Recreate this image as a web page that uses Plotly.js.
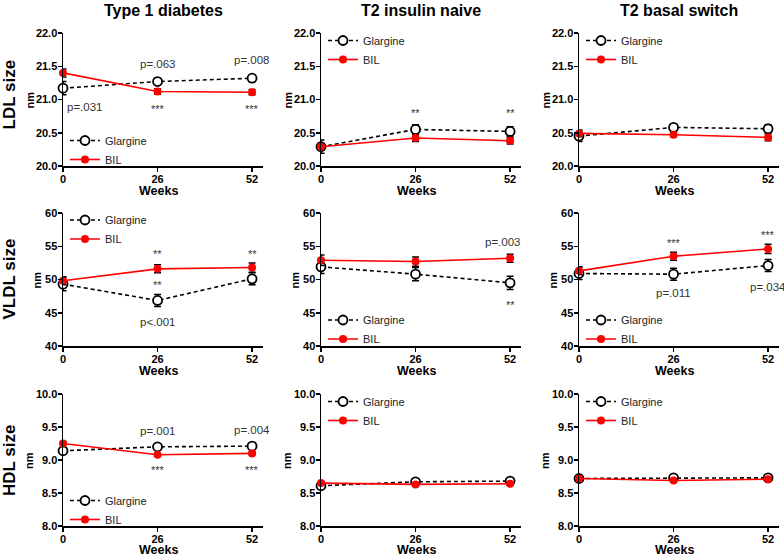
<!DOCTYPE html>
<html>
<head>
<meta charset="utf-8">
<script src="https://cdn.plot.ly/plotly-3.0.1.min.js"></script>
<style>html,body{margin:0;padding:0;background:#fff;}#chart{width:784px;height:559px;}</style>
</head>
<body>
<div id="chart"></div>
<script>
// ---------- data ----------
const weeks = [0, 26, 52];
const seriesNames = ['Glargine', 'BIL'];
const columnTitles = ['Type 1 diabetes', 'T2 insulin naive', 'T2 basal switch'];
const rowTitles = ['LDL size', 'VLDL size', 'HDL size'];
const xAxisTitle = 'Weeks';
const yAxisTitle = 'nm';
const xTickVals = [0, 26, 52];
const yTickVals = [[20.0, 20.5, 21.0, 21.5, 22.0], [40, 45, 50, 55, 60], [8.0, 8.5, 9.0, 9.5, 10.0]];

// LDL
const ldlT1Glar = [21.17, 21.27, 21.32];     const ldlT1GlarErr = [0.10, 0.05, 0.05];
const ldlT1Bil = [21.40, 21.12, 21.11];      const ldlT1BilErr = [0.06, 0.04, 0.04];
const ldlNaiveGlar = [20.29, 20.55, 20.52];  const ldlNaiveGlarErr = [0.10, 0.07, 0.07];
const ldlNaiveBil = [20.29, 20.42, 20.38];   const ldlNaiveBilErr = [0.05, 0.05, 0.05];
const ldlSwitchGlar = [20.45, 20.58, 20.56]; const ldlSwitchGlarErr = [0.08, 0.05, 0.06];
const ldlSwitchBil = [20.49, 20.47, 20.43];  const ldlSwitchBilErr = [0.05, 0.03, 0.05];
// VLDL
const vldlT1Glar = [49.3, 46.85, 50.1];      const vldlT1GlarErr = [1.0, 0.9, 0.9];
const vldlT1Bil = [49.8, 51.6, 51.8];        const vldlT1BilErr = [0.6, 0.6, 0.7];
const vldlNaiveGlar = [51.9, 50.8, 49.5];    const vldlNaiveGlarErr = [1.0, 1.0, 1.0];
const vldlNaiveBil = [52.9, 52.7, 53.2];     const vldlNaiveBilErr = [0.8, 0.7, 0.6];
const vldlSwitchGlar = [50.9, 50.8, 52.1];   const vldlSwitchGlarErr = [0.9, 0.9, 0.9];
const vldlSwitchBil = [51.3, 53.5, 54.6];    const vldlSwitchBilErr = [0.6, 0.6, 0.7];
// HDL
const hdlT1Glar = [9.14, 9.20, 9.21];        const hdlT1GlarErr = [0.04, 0.02, 0.02];
const hdlT1Bil = [9.25, 9.08, 9.10];         const hdlT1BilErr = [0.03, 0.02, 0.02];
const hdlNaiveGlar = [8.61, 8.67, 8.68];     const hdlNaiveGlarErr = [0.03, 0.02, 0.02];
const hdlNaiveBil = [8.65, 8.63, 8.64];      const hdlNaiveBilErr = [0.02, 0.02, 0.02];
const hdlSwitchGlar = [8.72, 8.73, 8.73];    const hdlSwitchGlarErr = [0.02, 0.02, 0.02];
const hdlSwitchBil = [8.72, 8.69, 8.71];     const hdlSwitchBilErr = [0.02, 0.02, 0.02];

// significance labels: [panel, week, value, text]
const sigLabels = [
  [0, 6, 20.88, 'p=.031'], [0, 26, 21.53, 'p=.063'], [0, 52, 21.59, 'p=.008'],
  [0, 26, 20.85, '***'], [0, 52, 20.85, '***'],
  [1, 26, 20.79, '**'], [1, 52, 20.79, '**'],
  [3, 26, 53.9, '**'], [3, 52, 53.9, '**'], [3, 26, 49.1, '**'], [3, 26, 43.6, 'p<.001'],
  [4, 50, 55.6, 'p=.003'], [4, 52, 46.1, '**'],
  [5, 26, 55.5, '***'], [5, 52, 56.7, '***'], [5, 26, 48.0, 'p=.011'], [5, 52, 48.9, 'p=.034'],
  [6, 26, 9.44, 'p=.001'], [6, 52, 9.46, 'p=.004'], [6, 26, 8.85, '***'], [6, 52, 8.85, '***']
];

const panels = [
  [ldlT1Glar, ldlT1GlarErr, ldlT1Bil, ldlT1BilErr],
  [ldlNaiveGlar, ldlNaiveGlarErr, ldlNaiveBil, ldlNaiveBilErr],
  [ldlSwitchGlar, ldlSwitchGlarErr, ldlSwitchBil, ldlSwitchBilErr],
  [vldlT1Glar, vldlT1GlarErr, vldlT1Bil, vldlT1BilErr],
  [vldlNaiveGlar, vldlNaiveGlarErr, vldlNaiveBil, vldlNaiveBilErr],
  [vldlSwitchGlar, vldlSwitchGlarErr, vldlSwitchBil, vldlSwitchBilErr],
  [hdlT1Glar, hdlT1GlarErr, hdlT1Bil, hdlT1BilErr],
  [hdlNaiveGlar, hdlNaiveGlarErr, hdlNaiveBil, hdlNaiveBilErr],
  [hdlSwitchGlar, hdlSwitchGlarErr, hdlSwitchBil, hdlSwitchBilErr]
];

// ---------- layout geometry ----------
const W = 784, H = 559;
const colPx = [[63, 263], [321, 521], [579, 779]];
const rowPx = [[33, 166], [213, 346], [394, 526]];
const yRanges = [[20, 22], [40, 60], [8, 10]];
const nmOffsetPx = [34, 27, 34];
const legendMidPx = [150, 50, 50, 229.5, 329.5, 329.5, 510, 411, 411];
const FONT = 'Liberation Sans, Arial, sans-serif';

const data = [];
const layout = {
  width: W, height: H,
  margin: {l: 0, r: 0, t: 0, b: 0},
  paper_bgcolor: '#fff', plot_bgcolor: 'rgba(0,0,0,0)',
  font: {family: FONT, color: '#000'},
  showlegend: true,
  annotations: []
};

for (let p = 0; p < 9; p++) {
  const r = Math.floor(p / 3), c = p % 3;
  const sfx = p === 0 ? '' : String(p + 1);
  const xa = 'x' + sfx, ya = 'y' + sfx;
  const leg = p === 0 ? 'legend' : 'legend' + (p + 1);
  const [g, ge, b, be] = panels[p];
  data.push({
    x: weeks, y: g, xaxis: xa, yaxis: ya, name: seriesNames[0], legend: leg,
    type: 'scatter', mode: 'lines+markers', cliponaxis: false,
    line: {color: '#000', width: 1.6, dash: '4px,3px'},
    marker: {symbol: 'circle', size: 9, color: '#fff', line: {color: '#000', width: 1.8}},
    error_y: {type: 'data', array: ge, visible: true, color: '#000', thickness: 1.5, width: 3.5}
  });
  data.push({
    x: weeks, y: b, xaxis: xa, yaxis: ya, name: seriesNames[1], legend: leg,
    type: 'scatter', mode: 'lines+markers', cliponaxis: false,
    line: {color: '#ff0000', width: 1.6},
    marker: {symbol: 'circle', size: 8, color: '#ff0000', line: {color: '#ff0000', width: 0}},
    error_y: {type: 'data', array: be, visible: true, color: '#000', thickness: 1.5, width: 3.5}
  });
  const axisCommon = {
    showline: true, linecolor: '#000', linewidth: 1.5, mirror: false,
    ticks: 'outside', ticklen: 4, tickwidth: 1.5, tickcolor: '#000',
    showgrid: false, zeroline: false, automargin: false, fixedrange: true,
    tickfont: {family: FONT, size: 11, weight: 700, color: '#000'}
  };
  layout['xaxis' + sfx] = Object.assign({}, axisCommon, {
    domain: [colPx[c][0] / W, colPx[c][1] / W],
    anchor: ya, range: [0, 55], tickmode: 'array', tickvals: xTickVals,
    ticktext: xTickVals.map(String), ticklabelstandoff: -2
  });
  const yr = yRanges[r];
  layout['yaxis' + sfx] = Object.assign({}, axisCommon, {
    domain: [1 - rowPx[r][1] / H, 1 - rowPx[r][0] / H],
    anchor: xa, range: yr, tickmode: 'array', tickvals: yTickVals[r],
    ticktext: yTickVals[r].map(v => r === 1 ? String(v) : v.toFixed(1)),
    ticklabelstandoff: -2
  });
  layout[leg] = {
    x: (colPx[c][0] + 2) / W, xanchor: 'left',
    y: 1 - legendMidPx[p] / H, yanchor: 'middle',
    bgcolor: 'rgba(0,0,0,0)', borderwidth: 0,
    font: {family: FONT, size: 11, color: '#222'},
    itemwidth: 30, traceorder: 'normal'
  };
  // axis titles as annotations (exact placement)
  const lastRow = r === 2;
  layout.annotations.push({
    xref: 'paper', yref: 'paper',
    x: (colPx[c][0] + colPx[c][1] - 10) / 2 / W,
    y: lastRow ? 0 : 1 - (rowPx[r][1] + 25) / H,
    text: xAxisTitle, showarrow: false, xanchor: 'center', yanchor: lastRow ? 'bottom' : 'middle',
    font: {family: FONT, size: 12.5, weight: 700, color: '#000'}
  });
  layout.annotations.push({
    xref: 'paper', yref: 'paper',
    x: (colPx[c][0] - nmOffsetPx[r]) / W, y: 1 - ((rowPx[r][0] + rowPx[r][1]) / 2 + 1) / H,
    text: yAxisTitle, showarrow: false, textangle: -90, xanchor: 'center', yanchor: 'middle',
    font: {family: FONT, size: 11, weight: 700, color: '#000'}
  });
}

// significance annotations
sigLabels.forEach(([p, xv, yv, txt]) => {
  const sfx = p === 0 ? '' : String(p + 1);
  const stars = txt.startsWith('*');
  layout.annotations.push({
    xref: 'x' + sfx, yref: 'y' + sfx, x: xv, y: yv, text: txt, showarrow: false,
    font: {family: FONT, size: stars ? 11 : 11.5, color: '#333'}
  });
});
// column titles
columnTitles.forEach((t, c) => {
  layout.annotations.push({
    xref: 'paper', yref: 'paper', x: (colPx[c][0] + colPx[c][1]) / 2 / W, y: 1 - 10 / H,
    text: t, showarrow: false, xanchor: 'center', yanchor: 'middle',
    font: {family: FONT, size: 16, weight: 700, color: '#000'}
  });
});
// row titles
rowTitles.forEach((t, r) => {
  layout.annotations.push({
    xref: 'paper', yref: 'paper', x: 9 / W, y: 1 - ((rowPx[r][0] + rowPx[r][1]) / 2 - (r === 0 ? 5 : 0)) / H,
    text: t, showarrow: false, textangle: -90, xanchor: 'center', yanchor: 'middle',
    font: {family: FONT, size: 17, weight: 700, color: '#000'}
  });
});

Plotly.newPlot('chart', data, layout, {staticPlot: true, displayModeBar: false});
</script>
</body>
</html>
